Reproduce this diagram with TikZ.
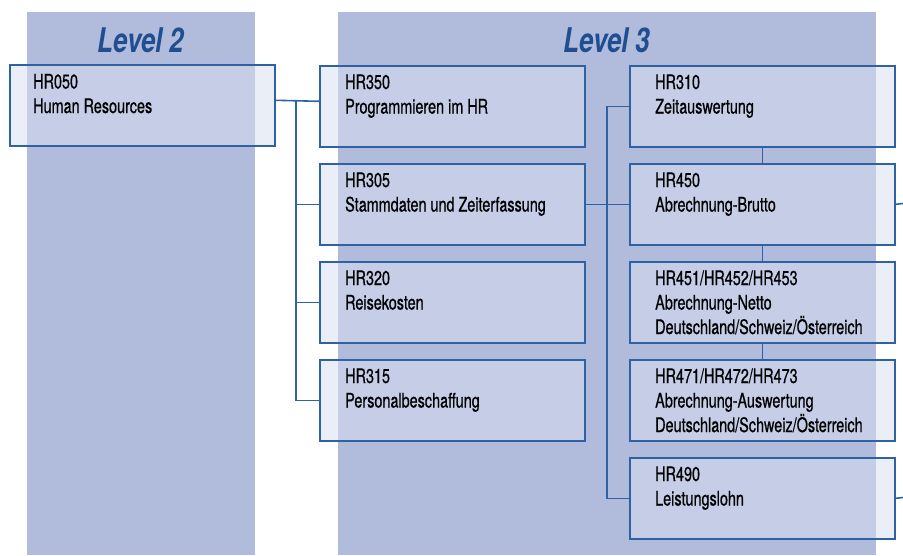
\documentclass[tikz,border=0pt]{standalone}
\usepackage{fontspec}
\setmainfont{TeX Gyre Heros}[FakeStretch=0.76]
\newfontfamily\boxfont{TeX Gyre Heros}[FakeStretch=0.72,FakeBold=0.6]
\definecolor{colbg}{HTML}{B1BBDB}
\definecolor{boxfill}{RGB}{215,223,240}
\definecolor{edge}{HTML}{2F62A3}
\definecolor{titleblue}{HTML}{1F4E91}
\begin{document}
\begin{tikzpicture}[x=1pt,y=-1pt,
  column/.style={fill=colbg,draw=none},
  box/.style={draw=edge,line width=1.6pt,fill=boxfill,fill opacity=0.53,
    minimum width=265pt,minimum height=81pt,anchor=north west,inner sep=0pt},
  txt/.style={anchor=base west,align=left,inner sep=0pt,text=black,
    font=\boxfont\fontsize{20}{24.5}\selectfont},
  title/.style={anchor=base,text=titleblue,inner sep=0pt,
    font=\fontsize{34}{40}\selectfont\bfseries\itshape},
  link/.style={draw=edge,line width=1.6pt}]
\useasboundingbox (0,0) rectangle (903,555);
% columns
\fill[column] (27,12) rectangle (255,555);
\fill[column] (338,12) rectangle (876,555);
\node[title] (t2) at (141,52) {Level 2};
\node[title] (t3) at (607,52) {Level 3};
% boxes
\node[box] (b050) at (9,64) {};
\node[box] (b350) at (319,65) {};
\node[box] (b305) at (319,163) {};
\node[box] (b320) at (319,261) {};
\node[box] (b315) at (319,359) {};
\node[box] (b310) at (629,65) {};
\node[box] (b450) at (629,163) {};
\node[box] (b451) at (629,261) {};
\node[box] (b471) at (629,359) {};
\node[box] (b490) at (629,457) {};
% texts (anchored at the baseline of the last line)
\node[txt] (x050) at (33,113) {HR050\\Human Resources};
\node[txt] (x350) at (345,113.5) {HR350\\Programmieren im HR};
\node[txt] (x305) at (345,211.5) {HR305\\Stammdaten und Zeiterfassung};
\node[txt] (x320) at (345,309.5) {HR320\\Reisekosten};
\node[txt] (x315) at (345,407.5) {HR315\\Personalbeschaffung};
\node[txt] (x310) at (655,113.5) {HR310\\Zeitauswertung};
\node[txt] (x450) at (655,211.5) {HR450\\Abrechnung-Brutto};
\node[txt] (x451) at (655,334) {HR451/HR452/HR453\\Abrechnung-Netto\\Deutschland/Schweiz/Österreich};
\node[txt] (x471) at (655,432) {HR471/HR472/HR473\\Abrechnung-Auswertung\\Deutschland/Schweiz/Österreich};
\node[txt] (x490) at (655,505.5) {HR490\\Leistungslohn};
% connectors level 2 -> level 3
\draw[link] ([yshift=5pt]b050.east) -- ([yshift=5pt]b350.west);
\draw[link] ([yshift=5pt,xshift=-23pt]b350.west) |- (b315.west);
\draw[link] (b305.west) -- ++(-23,0);
\draw[link] (b320.west) -- ++(-23,0);
% HR305 -> second column
\draw[link] (b305.east) -- (b450.west);
\draw[link] (b310.west) -- ++(-22,0) |- (b490.west);
\draw[link] (b310.south) -- (b450.north);
\draw[link] (b450.south) -- (b451.north);
\draw[link] (b451.south) -- (b471.north);
\coordinate (e450) at (903,203.5);
\coordinate (e490) at (903,497.5);
\draw[link] (b450.east) -- (e450);
\draw[link] (b490.east) -- (e490);
\end{tikzpicture}
\end{document}
